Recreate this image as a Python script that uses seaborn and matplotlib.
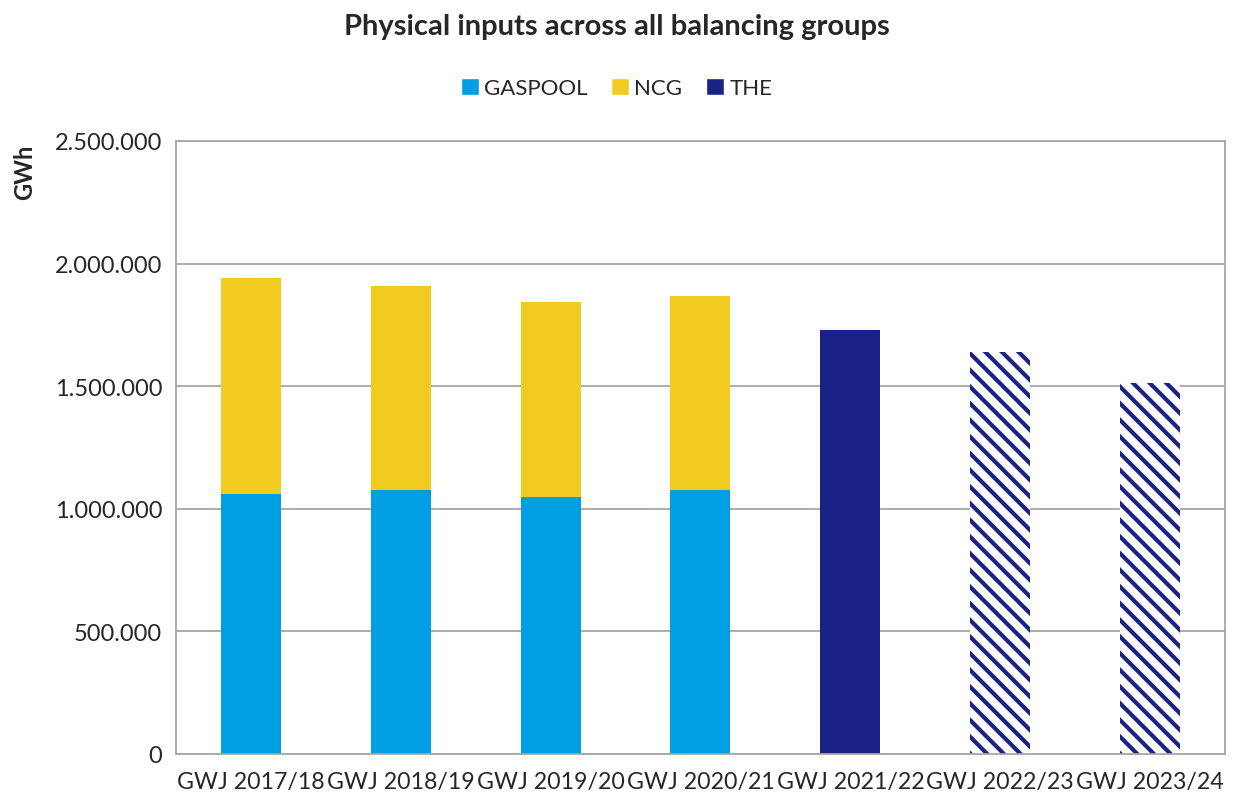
"""
Physical inputs across all balancing groups - stacked bar chart.
"""

import matplotlib
matplotlib.use("Agg")
import matplotlib.pyplot as plt
from matplotlib.patches import Patch
from matplotlib.ticker import FuncFormatter, FixedLocator
import seaborn as sns
import pandas as pd
import numpy as np

# Data (GWh)
years = ["GWJ 2017/18", "GWJ 2018/19", "GWJ 2019/20", "GWJ 2020/21",
         "GWJ 2021/22", "GWJ 2022/23", "GWJ 2023/24"]
gaspool = [1060000, 1077000, 1048000, 1077000, 0, 0, 0]
ncg = [881000, 832000, 795000, 791000, 0, 0, 0]
the = [0, 0, 0, 0, 1729000, 1640000, 1513000]
forecast = [False, False, False, False, False, True, True]

# Colours
c_gaspool = "#009FE3"
c_ncg = "#F2CB21"
c_the = "#1B2286"
grid_col = "#A6A6A6"

sns.set_style("white")
plt.rcParams["font.family"] = ["Lato", "DejaVu Sans"]
plt.rcParams["hatch.linewidth"] = 3.0

df = pd.DataFrame({"year": years, "GASPOOL": gaspool, "NCG": ncg, "THE": the})
df["old_total"] = df["GASPOOL"] + df["NCG"]

fig = plt.figure(figsize=(12.33, 8.03), dpi=100)
ax = fig.add_axes([0.1427, 0.0598, 0.8508, 0.7634])

# Stacked bars: total first (NCG colour), then GASPOOL on top
sns.barplot(data=df, x="year", y="old_total", order=years, color=c_ncg,
            saturation=1, width=0.4, ax=ax, linewidth=0)
sns.barplot(data=df, x="year", y="GASPOOL", order=years, color=c_gaspool,
            saturation=1, width=0.4, ax=ax, linewidth=0)
sns.barplot(data=df, x="year", y="THE", order=years, color=c_the,
            saturation=1, width=0.4, ax=ax, linewidth=0)

# Forecast years: hatched white bars
for bar, fc in zip(ax.containers[-1], forecast):
    if fc:
        bar.set_facecolor("white")
        bar.set_edgecolor(c_the)
        bar.set_hatch("\\\\")
        bar.set_linewidth(0)

ax.set_ylim(0, 2500000)
ax.set_xlim(-0.5, len(years) - 0.5)
ax.set_yticks(np.arange(0, 2500001, 500000))
ax.yaxis.set_major_formatter(
    FuncFormatter(lambda v, p: f"{v:,.0f}".replace(",", "."))
)
ax.yaxis.grid(True, color=grid_col, linewidth=1.3)
ax.set_axisbelow(True)

# X tick marks between categories
ax.xaxis.set_minor_locator(FixedLocator(np.arange(-0.5, len(years), 1)))
ax.tick_params(axis="x", which="major", length=0, labelsize=16.7, pad=12)
ax.tick_params(axis="x", which="minor", length=7, color="#808080", width=1.3, direction="out")
ax.tick_params(axis="y", length=6, color="#808080", width=1.3, direction="out",
               labelsize=17, pad=4)

for side in ["left", "bottom", "right", "top"]:
    ax.spines[side].set_visible(True)
    ax.spines[side].set_color(grid_col)
    ax.spines[side].set_linewidth(1.3)

ax.set_xlabel("")
ax.set_ylabel("GWh", fontsize=17, fontweight="bold")
ax.yaxis.set_label_coords(-0.133, 0.95)

fig.suptitle("Physical inputs across all balancing groups", fontsize=21,
             fontweight="bold", y=0.982)

handles = [Patch(facecolor=c_gaspool, label="GASPOOL"),
           Patch(facecolor=c_ncg, label="NCG"),
           Patch(facecolor=c_the, label="THE")]
fig.legend(handles=handles, loc="center", bbox_to_anchor=(0.5, 0.889), ncol=3,
           frameon=False, fontsize=16, handlelength=0.8, handleheight=0.8,
           handletextpad=0.25, columnspacing=1.05)

fig.savefig("out.png", dpi=100)
